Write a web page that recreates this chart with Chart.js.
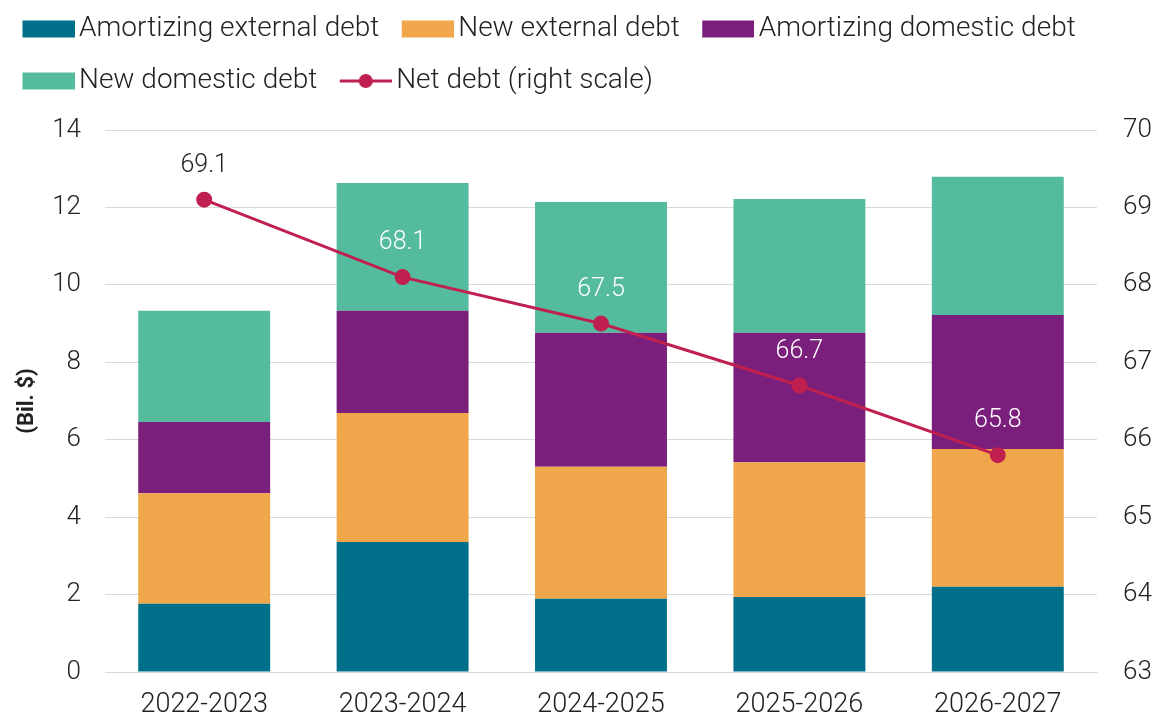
<!DOCTYPE html>
<html>
<head>
<meta charset="utf-8">
<script src="https://cdn.jsdelivr.net/npm/chart.js@4"></script>
<style>
  html, body { margin: 0; padding: 0; background: #fff; }
  #wrap { width: 1171px; height: 717px; }
</style>
</head>
<body>
<div id="wrap"><canvas id="debtChart" width="1171" height="717"></canvas></div>
<script>
// 数据
const periods = ['2022-2023', '2023-2024', '2024-2025', '2025-2026', '2026-2027'];
const amortExternal = [1.76, 3.36, 1.89, 1.94, 2.20];
const newExternal = [2.86, 3.33, 3.41, 3.48, 3.56];
const amortDomestic = [1.84, 2.64, 3.46, 3.34, 3.46];
const newDomestic = [2.87, 3.30, 3.38, 3.46, 3.57];
const netDebt = [69.1, 68.1, 67.5, 66.7, 65.8];
const netLabelColors = ['#222222', '#ffffff', '#ffffff', '#ffffff', '#ffffff'];

const seriesColors = ['#006f89', '#f0a64b', '#7b1f7c', '#55bb9f'];
const lineColor = '#c0204f';
const fontFamily = 'Roboto, "Open Sans", sans-serif';
const textColor = '#222222';

// 图例符号（矩形或折线+圆点），左侧留 8px 透明边
function makeLegendIcon(color, isLine) {
    const c = document.createElement('canvas');
    c.width = 60;
    c.height = 18;
    const g = c.getContext('2d');
    g.fillStyle = color;
    if (isLine) {
        g.strokeStyle = color;
        g.lineWidth = 3;
        g.beginPath();
        g.moveTo(8, 9);
        g.lineTo(60, 9);
        g.stroke();
        g.beginPath();
        g.arc(34, 9, 7, 0, Math.PI * 2);
        g.fill();
    } else {
        g.fillRect(8, 0.5, 52, 17);
    }
    return c;
}
const legendIcons = seriesColors.map(c => makeLegendIcon(c, false));
legendIcons.push(makeLegendIcon(lineColor, true));

// 折线数值标签
const netLabelPlugin = {
    id: 'netLabels',
    afterDatasetsDraw(chart) {
        const meta = chart.getDatasetMeta(4);
        const ctx = chart.ctx;
        ctx.save();
        ctx.font = '300 25px ' + fontFamily;
        ctx.textAlign = 'center';
        ctx.textBaseline = 'middle';
        meta.data.forEach((pt, i) => {
            ctx.fillStyle = netLabelColors[i];
            ctx.fillText(netDebt[i].toFixed(1), pt.x, pt.y - 34);
        });
        ctx.restore();
    }
};

// 固定图例高度，让绘图区从 y=130 开始
const legendHeight = {
    id: 'legendHeight',
    beforeInit(chart) {
        const fit = chart.legend.fit;
        chart.legend.fit = function () {
            fit.bind(chart.legend)();
            this.height = 139;
        };
    }
};

const ctx = document.getElementById('debtChart').getContext('2d');
new Chart(ctx, {
    type: 'bar',
    data: {
        labels: periods,
        datasets: [
            { label: 'Amortizing external debt', data: amortExternal, backgroundColor: seriesColors[0], stack: 's', yAxisID: 'y', order: 2 },
            { label: 'New external debt', data: newExternal, backgroundColor: seriesColors[1], stack: 's', yAxisID: 'y', order: 2 },
            { label: 'Amortizing domestic debt', data: amortDomestic, backgroundColor: seriesColors[2], stack: 's', yAxisID: 'y', order: 2 },
            { label: 'New domestic debt', data: newDomestic, backgroundColor: seriesColors[3], stack: 's', yAxisID: 'y', order: 2 },
            {
                type: 'line', label: 'Net debt (right scale)', data: netDebt, yAxisID: 'y1', order: 1,
                borderColor: lineColor, backgroundColor: lineColor, borderWidth: 3,
                pointRadius: 6.5, pointHoverRadius: 6.5, tension: 0
            }
        ]
    },
    options: {
        responsive: false,
        animation: false,
        events: [],
        layout: { padding: { left: 0, right: 0, top: -9, bottom: 0 } },
        datasets: { bar: { categoryPercentage: 1, barPercentage: 0.665 } },
        scales: {
            x: {
                grid: { display: false, drawTicks: false },
                border: { color: '#d9d9d9' },
                ticks: { color: textColor, font: { family: fontFamily, size: 27, weight: '300' }, padding: 17 },
                afterFit(s) { s.height = 45; }
            },
            y: {
                stacked: true, min: 0, max: 14,
                ticks: { stepSize: 2, color: textColor, font: { family: fontFamily, size: 26, weight: '300' }, padding: 24 },
                grid: { color: '#d9d9d9', drawTicks: false },
                border: { display: false },
                title: { display: true, text: '(Bil. $)', color: textColor, font: { family: fontFamily, size: 22, weight: 'bold' }, padding: { top: 14, bottom: 4 } },
                afterFit(s) { s.width = 105; }
            },
            y1: {
                position: 'right', min: 63, max: 70,
                ticks: { stepSize: 1, color: textColor, font: { family: fontFamily, size: 26, weight: '300' }, padding: 26 },
                grid: { display: false, drawTicks: false },
                border: { display: false },
                afterFit(s) { s.width = 74; }
            }
        },
        plugins: {
            legend: {
                position: 'top',
                align: 'start',
                labels: {
                    usePointStyle: true,
                    pointStyleWidth: 41,
                    boxHeight: 17,
                    padding: 24,
                    color: textColor,
                    font: { family: fontFamily, size: 28, weight: '300' },
                    generateLabels(chart) {
                        const items = Chart.defaults.plugins.legend.labels.generateLabels(chart);
                        items.sort((a, b) => a.datasetIndex - b.datasetIndex);
                        items.forEach(it => {
                            it.pointStyle = legendIcons[it.datasetIndex];
                        });
                        return items;
                    }
                }
            },
            tooltip: { enabled: false }
        }
    },
    plugins: [netLabelPlugin, legendHeight]
});
</script>
</body>
</html>
